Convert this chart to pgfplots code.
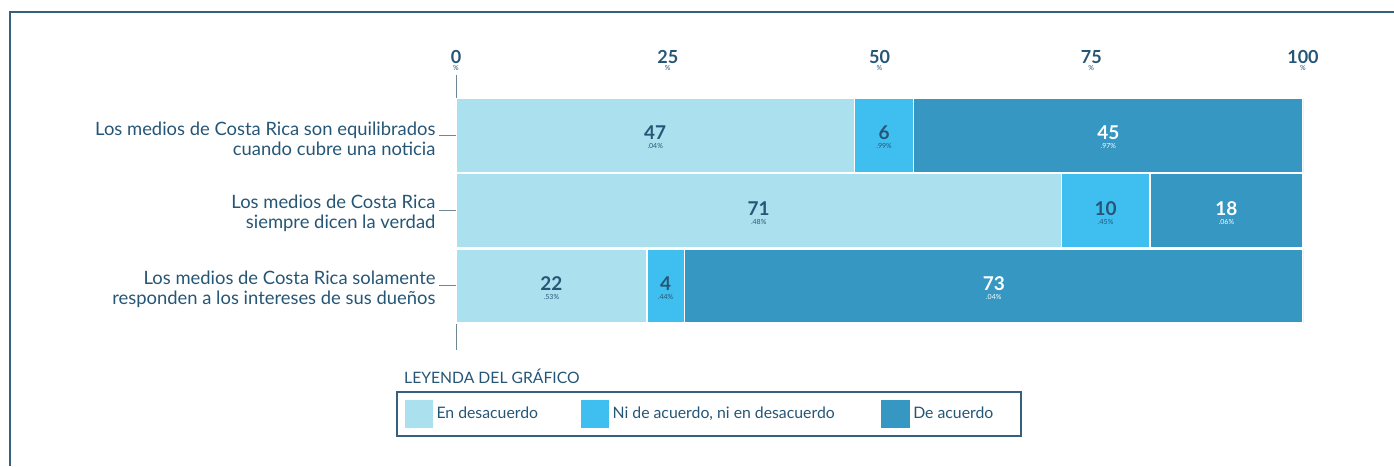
\documentclass[border=0pt]{standalone}
\usepackage{pgfplots}
\pgfplotsset{compat=1.18}
\usepackage{pgfplotstable}
\usepackage{fontspec}
\setmainfont{Lato}
\definecolor{cLight}{HTML}{ABE1EE}
\definecolor{cMid}{HTML}{3EBFF0}
\definecolor{cDark}{HTML}{3597C2}
\definecolor{cText}{HTML}{265676}
\definecolor{cAxis}{HTML}{6E8797}
\definecolor{cFrame}{HTML}{35607E}

\pgfplotstableread{
row dis ni de
0 47.04 6.99 45.97
1 71.48 10.45 18.06
2 22.53 4.44 73.04
}\datatable

\newcommand\ticklab[1]{{\fontsize{18}{18}\selectfont\bfseries #1}\\[-5pt]{\fontsize{7}{7}\selectfont\%}}
\newcommand\barlab[2]{{\fontsize{19}{19}\selectfont\bfseries #1}\\[-3pt]{\fontsize{7}{7}\selectfont #2}}

\begin{document}
\begin{tikzpicture}
\useasboundingbox (0,0) rectangle (1394pt,466pt);
\draw[cFrame, line width=2pt] (10pt,0) -- (10pt,454pt) -- (1394pt,454pt);
\begin{axis}[
 at={(456pt,116pt)}, anchor=south west,
 scale only axis, width=847pt, height=275pt,
 xbar stacked, bar width=0.987,
 y dir=reverse,
 xmin=0, xmax=100, ymin=-0.807, ymax=2.853,
 axis y line*=left, axis x line*=top,
 x axis line style={draw=none},
 y axis line style={cAxis, line width=1pt},
 xtick={0,25,50,75,100},
 xticklabels={\ticklab{0},\ticklab{25},\ticklab{50},\ticklab{75},\ticklab{100}},
 xtick style={draw=none},
 xticklabel style={align=center, text=cText, anchor=south, yshift=-16pt},
 ytick={0,1,2},
 yticklabels={{Los medios de Costa Rica son equilibrados\\cuando cubre una noticia},
   {Los medios de Costa Rica\\siempre dicen la verdad},
   {Los medios de Costa Rica solamente\\responden a los intereses de sus dueños}},
 yticklabel style={align=right, text=cText, font=\fontsize{18.4}{20}\selectfont, yshift=-3pt},
 ytick style={cAxis, line width=1pt},
 tick align=outside, major tick length=17pt,
 legend style={at={(axis description cs:-0.0708,-0.1491)}, anchor=north west,
   draw=cFrame, line width=2pt, font=\fontsize{15.8}{16}\selectfont, text=cText,
   inner xsep=6pt, inner ysep=6pt,
   /tikz/column 2/.style={column sep=39pt},
   /tikz/column 4/.style={column sep=43pt}},
 legend columns=3, legend cell align=left,
 legend image code/.code={\fill[#1] (0pt,-15pt) rectangle (30pt,15pt);},
]
\addplot[fill=cLight, draw=white, line width=1.5pt] table[x=dis, y=row] {\datatable};
\addplot[fill=cMid, draw=white, line width=1.5pt] table[x=ni, y=row] {\datatable};
\addplot[fill=cDark, draw=white, line width=1.5pt] table[x=de, y=row] {\datatable};
\legend{En desacuerdo, {Ni de acuerdo, ni en desacuerdo}, De acuerdo\hspace*{20pt}\rule{0pt}{1pt}}
\coordinate (a1) at (axis cs:23.52,0);
\coordinate (a2) at (axis cs:50.535,0);
\coordinate (a3) at (axis cs:77.015,0);
\coordinate (b1) at (axis cs:35.74,1);
\coordinate (b2) at (axis cs:76.705,1);
\coordinate (b3) at (axis cs:90.96,1);
\coordinate (c1) at (axis cs:11.265,2);
\coordinate (c2) at (axis cs:24.75,2);
\coordinate (c3) at (axis cs:63.49,2);
\end{axis}
\begin{scope}[every node/.style={align=center, yshift=-2pt}]
\node[text=cText] at (a1) {\barlab{47}{.04\%}};
\node[text=cText] at (a2) {\barlab{6}{.99\%}};
\node[text=white] at (a3) {\barlab{45}{.97\%}};
\node[text=cText] at (b1) {\barlab{71}{.48\%}};
\node[text=cText] at (b2) {\barlab{10}{.45\%}};
\node[text=white] at (b3) {\barlab{18}{.06\%}};
\node[text=cText] at (c1) {\barlab{22}{.53\%}};
\node[text=cText] at (c2) {\barlab{4}{.44\%}};
\node[text=white] at (c3) {\barlab{73}{.04\%}};
\end{scope}
\node[anchor=base west, inner sep=0pt, text=cText, font=\fontsize{15.7}{16}\selectfont] at (404pt,83pt) {LEYENDA DEL GRÁFICO};
\end{tikzpicture}
\end{document}
